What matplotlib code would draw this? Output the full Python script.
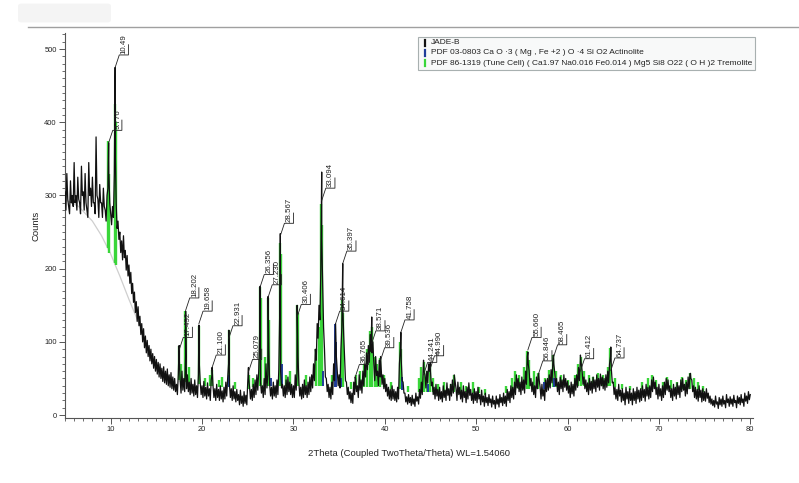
import numpy as np
import matplotlib
matplotlib.use("Agg")
import matplotlib.pyplot as plt
from matplotlib.lines import Line2D
from matplotlib.patches import Rectangle, FancyBboxPatch

plt.rcParams['font.family'] = ['Liberation Sans', 'DejaVu Sans']

# ---------------- data ----------------
# scan read at 0.2 deg steps from 5.0 ...
scan_start, scan_step = 5.0, 0.2
scan_counts = [
    305, 330, 285, 320, 300,   # 5
    345, 300, 325, 290, 340,   # 6
    305, 330, 280, 345, 310,   # 7
    325, 290, 380, 295, 315,   # 8
    290, 310, 280, 300, 330,   # 9
    275, 285, 330, 290, 265,   # 10
    250, 238, 245, 225, 218,   # 11
    205, 195, 180, 168, 155,   # 12
    148, 135, 125, 118, 108,   # 13
    102, 95, 90, 84, 80,       # 14
    76, 72, 70, 64, 66,        # 15
    60, 63, 55, 58, 52,        # 16
    50, 42, 55, 48, 60,        # 17
    50, 80, 55, 45, 50,        # 18
    42, 48, 40, 55, 45,        # 19
    40, 46, 38, 44, 36,        # 20
    48, 40, 36, 42, 35,        # 21
    40, 33, 38, 45, 50,        # 22
    42, 36, 40, 32, 35,        # 23
    28, 34, 26, 32, 27,        # 24
    45, 38, 35, 42, 48,        # 25
    55, 60, 45, 40, 50,        # 26
    70, 55, 42, 38, 45,        # 27
    40, 48, 62, 60, 42,        # 28
    40, 48, 52, 45, 42,        # 29
    40, 55, 60, 44, 38,        # 30
    42, 48, 40, 45, 52,        # 31
    55, 70, 90, 125, 150,      # 32
    200, 180, 90, 50, 42,      # 33
    38, 45, 70, 110, 60,       # 34
    55, 90, 150, 80, 45,       # 35
    38, 32, 30, 45, 50,        # 36
    40, 55, 48, 60, 70,        # 37
    85, 95, 110, 85, 70,       # 38
    80, 60, 75, 65, 55,        # 39
    50, 42, 38, 35, 40,        # 40
    35, 32, 38, 70, 75,        # 41
    45, 30, 25, 28, 24,        # 42
    27, 22, 30, 25, 35,        # 43
    45, 62, 55, 60, 70,        # 44
    60, 45, 38, 42, 35,        # 45
    38, 32, 40, 34, 44,        # 46
    36, 42, 48, 40, 36,        # 47
    45, 38, 34, 40, 32,        # 48
    38, 44, 35, 30, 36,        # 49
    32, 38, 28, 34, 26,        # 50
    30, 24, 28, 22, 26,        # 51
    20, 26, 22, 28, 24,        # 52
    30, 26, 35, 32, 40,        # 53
    38, 45, 55, 50, 45,        # 54
    52, 48, 60, 80, 60,        # 55
    50, 45, 40, 52, 55,        # 56
    38, 42, 35, 48, 50,        # 57
    55, 62, 75, 58, 50,        # 58
    45, 52, 48, 55, 50,        # 59
    46, 40, 45, 42, 50,        # 60
    55, 65, 75, 60, 52,        # 61
    48, 44, 50, 46, 52,        # 62
    48, 55, 50, 56, 52,        # 63
    50, 55, 60, 70, 62,        # 64
    45, 38, 35, 42, 34,        # 65
    36, 30, 38, 32, 36,        # 66
    30, 36, 32, 38, 34,        # 67
    36, 40, 35, 42, 38,        # 68
    40, 48, 52, 45, 38,        # 69
    42, 36, 40, 45, 50,        # 70
    48, 40, 36, 42, 38,        # 71
    44, 40, 48, 50, 42,        # 72
    45, 52, 56, 48, 40,        # 73
    38, 35, 40, 34, 36,        # 74
    32, 36, 30, 26, 22,        # 75
    20, 26, 18, 24, 22,        # 76
    26, 20, 28, 22, 25,        # 77
    22, 27, 20, 26, 24,        # 78
    28, 22, 30, 26, 32,        # 79
    28,                        # 80
]
# ... and the lower points of the noise between them, from 5.1 at 0.2 deg steps
mid_start = 5.1
scan_counts_mid = [
    280, 295, 275, 290, 285,   # 5
    290, 280, 295, 275, 300,   # 6
    280, 290, 270, 300, 285,   # 7
    290, 275, 300, 270, 290,   # 8
    270, 285, 265, 310, 290,   # 9
    260, 270, 360, 255, 240,   # 10
    222, 212, 215, 198, 190,   # 11
    180, 166, 154, 140, 128,   # 12
    122, 110, 100, 92, 85,     # 13
    80, 74, 70, 64, 60,        # 14
    56, 52, 50, 46, 44,        # 15
    42, 40, 38, 36, 34,        # 16
    32, 28, 80, 30, 34,        # 17
    32, 36, 32, 28, 30,        # 18
    26, 28, 24, 70, 28,        # 19
    24, 26, 22, 26, 20,        # 20
    55, 24, 20, 24, 20,        # 21
    22, 18, 22, 26, 70,        # 22
    24, 20, 22, 18, 20,        # 23
    14, 16, 12, 16, 14,        # 24
    50, 22, 20, 24, 28,        # 25
    34, 110, 30, 24, 28,       # 26
    37, 90, 26, 22, 26,        # 27
    24, 28, 140, 37, 26,       # 28
    24, 28, 32, 28, 24,        # 29
    24, 34, 80, 26, 22,        # 30
    24, 28, 24, 28, 32,        # 31
    37, 47, 75, 105, 130,      # 32
    240, 120, 52, 32, 24,      # 33
    22, 28, 47, 80, 40,        # 34
    37, 120, 110, 47, 28,      # 35
    22, 17, 16, 28, 32,        # 36
    24, 34, 30, 40, 52,        # 37
    62, 72, 87, 100, 47,       # 38
    54, 40, 52, 42, 36,        # 39
    32, 26, 22, 20, 22,        # 40
    20, 18, 22, 90, 47,        # 41
    30, 18, 15, 17, 13,        # 42
    15, 12, 19, 15, 23,        # 43
    28, 60, 37, 44, 60,        # 44
    40, 28, 22, 26, 20,        # 45
    22, 18, 24, 20, 27,        # 46
    20, 26, 30, 45, 20,        # 47
    28, 22, 18, 24, 17,        # 48
    22, 27, 20, 16, 20,        # 49
    17, 22, 14, 18, 12,        # 50
    17, 13, 17, 11, 15,        # 51
    9, 15, 11, 17, 13,         # 52
    16, 12, 20, 17, 24,        # 53
    22, 28, 37, 32, 28,        # 54
    34, 30, 42, 70, 40,        # 55
    32, 28, 24, 36, 48,        # 56
    22, 26, 20, 32, 34,        # 57
    37, 44, 70, 40, 32,        # 58
    28, 36, 32, 38, 34,        # 59
    30, 24, 29, 26, 34,        # 60
    38, 47, 70, 42, 36,        # 61
    32, 28, 34, 30, 36,        # 62
    32, 38, 34, 40, 36,        # 63
    34, 38, 44, 80, 44,        # 64
    28, 22, 20, 26, 18,        # 65
    20, 14, 22, 16, 20,        # 66
    14, 20, 16, 22, 18,        # 67
    20, 24, 19, 26, 22,        # 68
    24, 32, 36, 28, 22,        # 69
    26, 20, 24, 28, 34,        # 70
    32, 24, 20, 26, 22,        # 71
    28, 24, 32, 34, 26,        # 72
    29, 36, 50, 32, 24,        # 73
    22, 19, 24, 18, 20,        # 74
    19, 23, 17, 15, 13,        # 75
    11, 15, 9, 14, 12,         # 76
    15, 10, 17, 12, 15,        # 77
    12, 17, 10, 16, 14,        # 78
    17, 12, 19, 16, 21,        # 79
]

# sharp peak maxima (2theta, counts)
peak_theta = [9.776, 10.49, 17.492, 18.202, 19.658, 21.10, 22.931, 25.079,
              26.356, 27.230, 28.567, 30.406, 33.094, 34.614, 35.397, 36.765,
              38.571, 39.536, 41.758, 44.241, 44.990, 47.6, 55.660, 56.846,
              58.465, 61.412, 64.737, 73.45]
peak_counts = [372, 475, 95, 142, 123, 65, 116, 65,
               176, 162, 248, 150, 332, 125, 207, 52,
               134, 80, 113, 75, 72, 55, 86, 57,
               82, 82, 93, 57]

# fitted background (light grey curve)
bg_theta = [5.2, 6.5, 8.0, 9.0, 10.0, 11.0, 12.0, 13.0, 13.5]
bg_counts = [293, 285, 265, 245, 220, 190, 158, 128, 115]

# peak labels and the counts where each leader starts
label_text = ["9.776", "10.49", "17.492", "18.202", "19.658", "21.100",
              "22.931", "25.079", "26.356", "27.230", "28.567", "30.406",
              "33.094", "34.614", "35.397", "36.765", "38.571", "39.536",
              "41.758", "44.241", "44.990", "55.660", "56.846", "58.465",
              "61.412", "64.737"]
label_theta = [9.776, 10.49, 17.492, 18.202, 19.658, 21.10, 22.931, 25.079,
               26.356, 27.230, 28.567, 30.406, 33.094, 34.614, 35.397, 36.765,
               38.571, 39.536, 41.758, 44.241, 44.990, 55.660, 56.846, 58.465,
               61.412, 64.737]
label_anchor = [372, 475, 89, 143, 125, 65, 105, 59,
                175, 161, 245, 134, 293, 125, 207, 52,
                98, 75, 113, 55, 64, 89, 57, 79,
                60, 61]

# PDF 86-1319 Tremolite reference sticks: position, base, top
trem_pos = [9.70, 9.85, 10.45, 10.55, 17.45, 17.75, 18.15, 18.25, 18.6, 19.65,
            20.3, 20.9, 21.1, 21.9, 22.2, 22.9, 23.6, 25.1, 25.6, 26.3,
            26.4, 26.9, 27.2, 27.3, 28.5, 28.6, 29.2, 29.6, 30.35, 30.45,
            31.4, 32.5, 32.8, 33.05, 33.15, 34.2, 35.35, 35.45, 36.3, 36.9,
            37.3, 37.7, 38.1, 38.4, 38.6, 38.9, 39.2, 39.5, 39.9, 40.7,
            41.7, 41.8, 42.5, 43.7, 44.0, 44.3, 44.6, 44.9, 45.3, 45.8,
            46.5, 47.2, 47.6, 48.3, 48.9, 49.6, 50.3, 51.0, 53.3, 53.9,
            54.3, 54.7, 55.2, 55.6, 55.8, 56.3, 56.8, 57.5, 58.0, 58.4,
            58.7, 59.3, 60.0, 60.8, 61.2, 61.5, 61.8, 62.3, 62.8, 63.3,
            63.9, 64.4, 64.7, 65.2, 66.0, 66.8, 68.2, 68.8, 69.3, 69.7,
            70.4, 70.9, 71.3, 72.0, 72.5, 73.0, 73.4, 73.8, 74.3, 74.8]
trem_base = [228, 222, 208, 205, 48, 45, 45, 45, 44, 42,
             40, 40, 40, 38, 38, 38, 36, 36, 38, 40,
             40, 40, 40, 40, 40, 40, 40, 40, 40, 40,
             40, 40, 40, 40, 40, 38, 38, 38, 36, 36,
             38, 38, 38, 38, 38, 38, 38, 38, 38, 35,
             35, 35, 32, 32, 32, 32, 32, 32, 32, 32,
             32, 32, 32, 32, 32, 30, 30, 28, 30, 32,
             34, 35, 36, 36, 36, 36, 36, 36, 38, 38,
             38, 38, 38, 40, 40, 40, 40, 40, 40, 40,
             40, 40, 40, 38, 35, 34, 35, 36, 36, 36,
             36, 36, 36, 36, 36, 36, 36, 36, 34, 32]
trem_top = [375, 330, 425, 400, 95, 70, 142, 120, 65, 122,
            50, 55, 62, 48, 52, 116, 45, 55, 50, 175,
            160, 80, 160, 130, 235, 220, 55, 60, 150, 140,
            55, 90, 120, 289, 260, 55, 157, 140, 45, 55,
            60, 70, 90, 115, 120, 80, 70, 78, 55, 45,
            100, 90, 40, 50, 65, 72, 60, 68, 50, 42,
            45, 42, 55, 45, 40, 45, 38, 35, 40, 50,
            60, 55, 65, 88, 75, 60, 58, 50, 62, 82,
            60, 55, 48, 55, 70, 80, 60, 55, 52, 58,
            55, 65, 92, 50, 42, 40, 45, 50, 55, 48,
            45, 52, 48, 45, 52, 48, 57, 50, 45, 40]

# PDF 03-0803 Actinolite reference sticks
act_pos = [22.95, 27.5, 28.7, 33.2, 34.6, 34.7, 35.2, 41.9, 44.7, 57.4, 58.5]
act_base = [38, 40, 40, 40, 38, 38, 38, 34, 32, 36, 38]
act_top = [55, 50, 70, 60, 125, 100, 50, 52, 42, 45, 50]

series_names = ["JADE-B",
                "PDF 03-0803 Ca O \u00b73 ( Mg , Fe +2 ) O \u00b74 Si O2 Actinolite",
                "PDF 86-1319 (Tune Cell) ( Ca1.97 Na0.016 Fe0.014 ) Mg5 Si8 O22 ( O H )2 Tremolite"]
series_colors = ["#111111", "#1f3c99", "#39d639"]

xlabel = "2Theta (Coupled TwoTheta/Theta) WL=1.54060"
ylabel = "Counts"

# ---------------- figure ----------------
fig = plt.figure(figsize=(7.99, 4.83), dpi=100)
W, H = 799, 483
ax = fig.add_axes([65 / W, 1 - 418 / H, (753 - 65) / W, (418 - 33) / H])

scan_theta = scan_start + scan_step * np.arange(len(scan_counts))
mid_theta = mid_start + scan_step * np.arange(len(scan_counts_mid))
theta = np.concatenate([scan_theta, mid_theta, peak_theta])
counts = np.concatenate([np.array(scan_counts, float), scan_counts_mid, peak_counts])
order = np.argsort(theta, kind="stable")
theta, counts = theta[order], counts[order]

ax.plot(bg_theta, bg_counts, color="#cfcfcf", lw=0.9, zorder=1)
ax.vlines(trem_pos, trem_base, trem_top, color=series_colors[2], lw=1.7, zorder=2)
ax.vlines(act_pos, act_base, act_top, color=series_colors[1], lw=1.4, zorder=3)
ax.plot(theta, counts, color=series_colors[0], lw=0.9, zorder=4)

# peak labels with bracket leaders
rise, run1, run2, tick = 17, 0.45, 1.0, 14
for t, a, s in zip(label_theta, label_anchor, label_text):
    x1, y1 = t + run1, a + rise
    x2 = x1 + run2
    ax.plot([t, x1, x2, x2], [a, y1, y1, y1 + tick], color="#222222", lw=0.6, zorder=5)
    ax.text(x2 - 0.08, y1 + 1.5, s, rotation=90, ha="right", va="bottom",
            fontsize=5.7, color="#222222", zorder=6)

ax.set_xlim(5, 80.3)
ax.set_ylim(-4, 522)
ax.set_xticks(np.arange(10, 81, 10))
ax.set_xticks(np.arange(5, 81, 1), minor=True)
ax.set_yticks(np.arange(0, 501, 100))
ax.set_yticks(np.arange(0, 521, 10), minor=True)
for sp in ["top", "right"]:
    ax.spines[sp].set_visible(False)
for sp in ["left", "bottom"]:
    ax.spines[sp].set_color("#555555")
    ax.spines[sp].set_linewidth(0.8)
ax.tick_params(axis="both", which="major", length=4, width=0.7, color="#555555",
               labelsize=5.4, labelcolor="#222222", pad=2)
ax.tick_params(axis="both", which="minor", length=2, width=0.6, color="#555555")
ax.set_xlabel(xlabel, fontsize=6.8, color="#222222", labelpad=11)
ax.set_ylabel(ylabel, fontsize=6.8, color="#222222", labelpad=3)

# legend box
lx0, lx1, ly0, ly1 = 418, 755, 37, 70
fig.patches.append(Rectangle((lx0 / W, 1 - ly1 / H), (lx1 - lx0) / W, (ly1 - ly0) / H,
                             transform=fig.transFigure, facecolor="#f8f9f9",
                             edgecolor="#a8b0b0", lw=0.8, zorder=10))
for i, (name, col) in enumerate(zip(series_names, series_colors)):
    yc = 42.5 + i * 10.3
    fig.lines.append(Line2D([425 / W, 425 / W], [1 - (yc - 3) / H, 1 - (yc + 3) / H],
                            transform=fig.transFigure, color=col, lw=1.6, zorder=11))
    fig.text(431 / W, 1 - yc / H, name, fontsize=6.0, color="#222222",
             va="center", ha="left", zorder=12)

# top rule and faint corner patch
fig.lines.append(Line2D([28 / W, 1.0], [1 - 27 / H, 1 - 27 / H], transform=fig.transFigure,
                        color="#a0a0a0", lw=1.0))
fig.patches.append(FancyBboxPatch((22 / W, 1 - 20 / H), 85 / W, 14 / H,
                                  boxstyle="round,pad=0.005", transform=fig.transFigure,
                                  facecolor="#f4f4f4", edgecolor="none"))

fig.savefig("out.png", dpi=100)
